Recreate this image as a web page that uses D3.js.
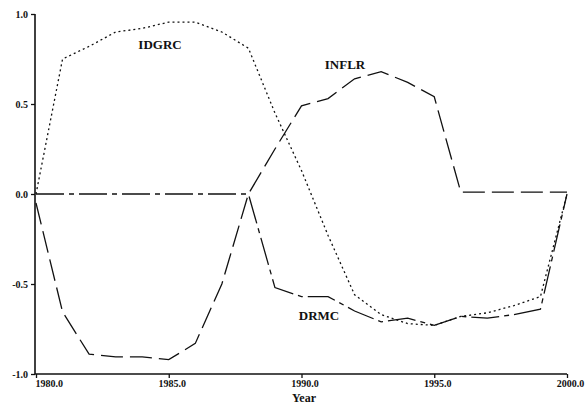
<!DOCTYPE html>
<html><head><meta charset="utf-8">
<script src="https://cdn.jsdelivr.net/npm/d3@7"></script>
<style>body{margin:0;background:#fff}svg{display:block}</style>
</head><body>
<script>
const years = d3.range(1980, 2001);
const IDGRC = [0.00,0.75,0.82,0.90,0.92,0.955,0.955,0.90,0.81,0.45,0.13,-0.23,-0.56,-0.67,-0.72,-0.73,-0.68,-0.66,-0.62,-0.57,0.00];
const INFLR = [-0.05,-0.655,-0.89,-0.905,-0.905,-0.92,-0.83,-0.50,0.00,0.25,0.49,0.53,0.64,0.68,0.62,0.54,0.01,0.01,0.01,0.01,0.01];
const DRMC  = [0.00,0.00,0.00,0.00,0.00,0.00,0.00,0.00,0.00,-0.52,-0.57,-0.57,-0.65,-0.71,-0.69,-0.73,-0.68,-0.69,-0.67,-0.64,0.00];
const xTicks = [1980,1985,1990,1995,2000];
const yTicks = [-1.0,-0.5,0.0,0.5,1.0];

const W=587,H=404;
const svg=d3.select("body").append("svg").attr("width",W).attr("height",H);
const x=d3.scaleLinear().domain([1980,2000]).range([36,567]);
const y=d3.scaleLinear().domain([-1,1]).range([374,14]);
const font="'Liberation Serif', 'DejaVu Serif', serif";

const yAxis=svg.append("g").attr("transform","translate(35,0)")
  .call(d3.axisLeft(y).tickValues(yTicks).tickSize(4).tickPadding(3).tickFormat(d=>d.toFixed(1)));
const xAxis=svg.append("g").attr("transform","translate(0,374)")
  .call(d3.axisBottom(x).tickValues(xTicks).tickSize(4).tickPadding(2).tickFormat(d=>d.toFixed(1)));
[yAxis,xAxis].forEach(g=>{
  g.select(".domain").attr("stroke","#111").attr("stroke-width",1.6);
  g.selectAll(".tick line").attr("stroke","#111").attr("stroke-width",1.3);
  g.selectAll("text").attr("fill","#111").style("font-family",font).style("font-weight","bold").style("font-size","10px");
});
xAxis.select(".domain").attr("d","M35,0H567");
yAxis.select(".domain").attr("d","M0,14V374");
xAxis.selectAll(".tick text").attr("dx",3);
xAxis.selectAll(".tick text").filter(d=>d===1980).attr("text-anchor","start").attr("dx",-1);

svg.append("text").attr("x",304).attr("y",402).attr("text-anchor","middle")
  .style("font-family",font).style("font-weight","bold").style("font-size","12px").attr("fill","#111").text("Year");

const line=d3.line().x((d,i)=>x(years[i])).y(d=>y(d));
const series=[
  {name:"IDGRC",data:IDGRC,dash:"2,3",lx:160,ly:49},
  {name:"INFLR",data:INFLR,dash:"22,7",lx:345,ly:69},
  {name:"DRMC",data:DRMC,dash:"28,5,5,5",lx:319,ly:320}
];
series.forEach(s=>{
  svg.append("path").datum(s.data).attr("d",line).attr("fill","none")
    .attr("stroke","#111").attr("stroke-width",1.3).attr("stroke-dasharray",s.dash);
  svg.append("text").attr("x",s.lx).attr("y",s.ly).attr("text-anchor","middle")
    .style("font-family",font).style("font-weight","bold").style("font-size","13px").attr("fill","#111").text(s.name);
});
</script>
</body></html>
